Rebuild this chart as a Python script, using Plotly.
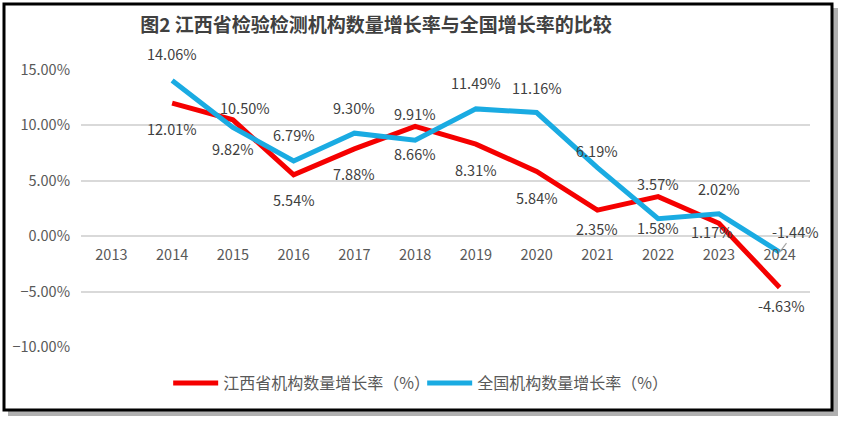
import plotly.graph_objects as go

years = ["2013", "2014", "2015", "2016", "2017", "2018", "2019", "2020", "2021", "2022", "2023", "2024"]
jiangxi = [None, 12.01, 10.50, 5.54, 7.88, 9.91, 8.31, 5.84, 2.35, 3.57, 1.17, -4.63]
national = [None, 14.06, 9.82, 6.79, 9.30, 8.66, 11.49, 11.16, 6.19, 1.58, 2.02, -1.44]
name_jx = "江西省机构数量增长率（%）"
name_nat = "全国机构数量增长率（%）"
title = "图2 江西省检验检测机构数量增长率与全国增长率的比较"

# label offsets (px, positive = up / right) — styling only
jx_shift = [0, -25, 12, -25, -25, 13, -25, -26, -18, 13, -8, -18]
jx_xshift = [0, 0, 12, 0, 0, 0, 0, 0, 0, 0, -7, 2]
nat_shift = [0, 27, -21, 26, 26, -13, 26, 25, 17, -9, 25, 0]

RED = "#F50000"
BLUE = "#1AABE2"
FONT = "Noto Sans CJK SC"
GRAY = "#595959"
LBL = dict(size=14.5, color="#404040", family=FONT)

fig = go.Figure()
fig.add_trace(go.Scatter(x=years, y=jiangxi, name=name_jx, mode="lines",
                         line=dict(color=RED, width=5), connectgaps=False))
fig.add_trace(go.Scatter(x=years, y=national, name=name_nat, mode="lines",
                         line=dict(color=BLUE, width=5), connectgaps=False))

ann = []
for i, y in enumerate(jiangxi):
    if y is None:
        continue
    ann.append(dict(x=i, y=y, xref="x", yref="y", text=f"{y:.2f}%", showarrow=False,
                    yshift=jx_shift[i], xshift=jx_xshift[i], font=LBL))
for i, y in enumerate(national):
    if y is None:
        continue
    if i == len(national) - 1:
        ann.append(dict(x=i, y=y, xref="x", yref="y", text=f"{y:.2f}%", showarrow=True,
                        arrowhead=0, arrowwidth=1.2, arrowcolor="#A6A6A6",
                        ax=16, ay=-21, standoff=0, font=LBL))
    else:
        ann.append(dict(x=i, y=y, xref="x", yref="y", text=f"{y:.2f}%", showarrow=False,
                        yshift=nat_shift[i], font=LBL))

ymin, ymax = -10, 15
shapes = [
    # shadow
    dict(type="rect", xref="paper", yref="paper",
         x0=(8 - 81) / 729, x1=(838 - 81) / 729,
         y0=(347 - 8) / 277, y1=(347 - 416) / 277,
         fillcolor="#B0B0B0", line=dict(width=0), layer="below"),
    # border
    dict(type="rect", xref="paper", yref="paper",
         x0=(4 - 81) / 729, x1=(832 - 81) / 729,
         y0=(347 - 4) / 277, y1=(347 - 410) / 277,
         fillcolor="white", line=dict(color="black", width=3), layer="below"),
]

fig.update_layout(
    width=844, height=423,
    margin=dict(l=81, r=34, t=70, b=76),
    paper_bgcolor="white", plot_bgcolor="rgba(0,0,0,0)",
    font=dict(family=FONT, color=GRAY),
    title=dict(text=f"<b>{title}</b>", x=376 / 844, xanchor="center",
               y=1 - 25 / 423, yanchor="middle",
               font=dict(size=19, color="#404040", family=FONT)),
    xaxis=dict(type="category", categoryorder="array", categoryarray=years,
               range=[-0.5, 11.5], showgrid=False, showline=False, ticks="",
               anchor="free", position=(0 - ymin) / (ymax - ymin),
               ticklabelstandoff=8, tickfont=dict(size=14.5, color=GRAY)),
    yaxis=dict(range=[ymin, ymax], dtick=5, tick0=0, tickformat=".2f", ticksuffix="%",
               showgrid=True, gridcolor="#D9D9D9", gridwidth=1.5,
               zeroline=True, zerolinecolor="#D9D9D9", zerolinewidth=1.5,
               showline=False, ticks="", ticklabelstandoff=10,
               tickfont=dict(size=14.5, color=GRAY)),
    legend=dict(orientation="h", x=395 / 844, xanchor="center",
                y=(347 - 383) / 277, yanchor="middle",
                font=dict(size=16, color=GRAY, family=FONT),
                itemwidth=45, entrywidth=194, bgcolor="rgba(0,0,0,0)"),
    annotations=ann,
    shapes=shapes,
)

fig.write_html("out.html", config={"displayModeBar": False},
               post_script="document.body.style.margin='0';")
